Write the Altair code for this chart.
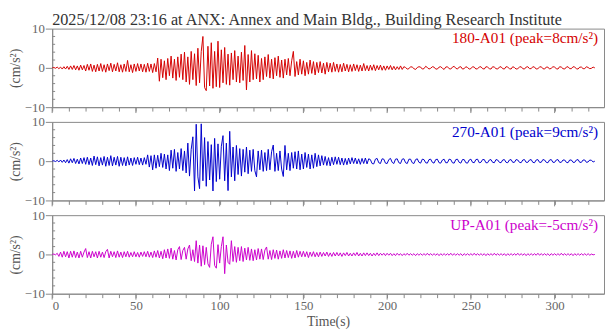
import altair as alt
import pandas as pd

# ---------------- data ----------------
time_s = list(range(325))

acc_180 = [
    0, 0.1, -0.1, 0.2, -0.2, 0.2, -0.3, 0.3, -0.3, 0.4,
    -0.4, 0.5, -0.4, 0.6, -0.5, 0.5, -0.6, 0.7, -0.5, 0.6,
    -0.8, 0.9, -0.6, 1.0, -0.9, 0.7, -1.0, 0.9, -0.8, 1.1,
    -0.9, 0.8, -1.1, 1.0, -0.7, 1.2, -1.0, 0.9, -0.8, 1.3,
    -1.0, 0.8, -1.1, 1.0, -0.9, 1.9, -1.0, 0.8, -1.2, 1.0,
    -0.9, 1.1, -0.8, 1.0, -1.0, 0.9, -1.1, 1.2, -0.9, 1.0,
    -1.2, 1.1, -1.0, 2.5, -3.4, 2.2, -2.5, 1.8, -3.0, 2.4,
    -2.0, 3.0, -2.6, 2.2, -3.2, 2.8, -2.4, 3.5, -3.0, 4.0,
    -3.6, 2.8, -4.2, 4.2, -3.0, 3.6, -4.5, 5.0, -3.8, 4.2,
    8.0, -5.0, -5.8, 5.5, -4.6, 6.4, -5.2, 4.2, -4.8, 6.8,
    -5.0, 4.6, -3.8, 5.2, -4.2, 3.5, -4.4, 3.8, -3.0, 4.4,
    -3.6, 3.0, -3.8, 4.0, -3.2, 5.7, -5.6, 3.4, -3.6, 4.4,
    -3.0, 3.6, -2.8, 3.2, -3.6, 2.4, -3.0, 2.8, -2.2, 3.4,
    -2.6, 2.2, -2.8, 2.6, -2.0, 3.0, -2.4, 2.0, -2.6, 2.2,
    -1.8, 2.4, -2.0, 1.8, 4.2, -2.2, 1.6, -1.8, 2.2, -1.6,
    1.8, -2.0, 1.4, -1.6, 2.0, -1.4, 1.6, -1.8, 1.4, -1.2,
    1.6, -1.3, 1.2, -1.6, 1.4, -1.0, 1.2, -1.1, 1.4, -0.9,
    1.0, -1.1, 0.9, -1.0, 1.2, -0.8, 0.9, -1.0, 0.8, -0.9,
    1.0, -0.7, 0.8, -0.9, 0.7, -0.8, 1.1, -0.7, 0.6, -0.8,
    0.7, -0.6, 0.8, -0.7, 0.6, -0.5, 0.7, -0.6, 0.5, -0.6,
    0.5, -0.4, 0.6, -0.5, 0.4, -0.5, 0.3, -0.4, 0.5, -0.4,
    0.3, 0.1, -0.3, -0.2, 0.3, 0.2, -0.2, -0.4, 0.1, 0.3,
    0.2, -0.3, -0.2, 0.4, 0.1, -0.3, -0.1, 0.3, 0.2, -0.3,
    -0.3, 0.2, 0.3, -0.1, -0.4, 0.2, 0.3, -0.2, -0.3, 0.2,
    0.4, -0.1, -0.3, 0.2, 0.3, -0.3, -0.2, 0.3, 0.1, -0.3,
    -0.2, 0.3, 0.2, -0.3, -0.2, 0.2, 0.3, -0.2, -0.3, 0.3,
    0.2, -0.2, -0.3, 0.3, 0.2, -0.2, -0.3, 0.2, 0.3, -0.2,
    -0.3, 0.3, 0.2, -0.2, -0.3, 0.3, 0.1, -0.3, -0.2, 0.2,
    0.3, -0.2, -0.3, 0.2, 0.3, -0.2, -0.2, 0.3, 0.2, -0.3,
    -0.2, 0.2, 0.3, -0.2, -0.3, 0.2, 0.2, -0.3, -0.1, 0.3,
    0.2, -0.2, -0.3, 0.3, 0.2, -0.2, -0.3, 0.2, 0.3, -0.2,
    -0.2, 0.3, 0.2, -0.2, -0.3, 0.2, 0.2, -0.2, -0.2, 0.3,
    0.1, -0.2, -0.1, 0.2, 0.0,
]

acc_270 = [
    0, 0.1, -0.1, 0.2, -0.2, 0.3, -0.3, 0.3, -0.4, 0.4,
    -0.5, 0.6, -0.4, 0.7, -0.6, 0.5, -0.7, 0.8, -0.6, 0.9,
    -0.8, 1.0, -0.9, 0.8, -1.1, 1.3, -0.9, 1.1, -1.2, 0.9,
    -1.0, 1.2, -1.3, 1.0, -1.1, 1.4, -1.2, 1.0, -1.0, 1.2,
    -1.3, 1.0, -1.1, 0.9, -1.2, 1.1, -1.0, 0.8, -1.1, 0.9,
    -0.8, 1.0, -0.9, 0.8, -1.0, 0.9, -0.8, 1.6, -1.5, 1.4,
    -2.2, 1.6, -1.8, 1.5, -1.4, 2.0, -1.6, 1.8, -2.0, 1.6,
    -2.4, 2.8, -1.8, 3.0, -2.6, 2.2, -2.0, 3.2, -2.4, 2.6,
    -3.0, 4.6, -3.8, 3.0, 6.2, -7.6, 9.4, -4.0, -7.0, 9.5,
    -5.0, 6.0, -6.4, 5.0, -4.8, 4.2, -7.6, 5.8, -5.2, 4.4,
    -4.6, 3.8, 6.5, -5.0, 4.6, -7.5, 7.6, -4.0, 3.6, -5.0,
    4.0, -3.4, 3.2, -3.8, 3.0, -2.8, 3.6, -3.2, 2.8, -2.6,
    3.0, -2.4, -4.0, 2.6, -2.2, 2.8, -2.6, 2.2, -2.4, 3.0,
    -2.2, 2.4, 4.1, -2.6, 2.0, -2.4, 2.6, -2.0, -3.9, 4.0,
    -2.2, 2.0, -2.4, 2.2, -1.8, 2.4, -2.0, 2.6, -2.2, 1.8,
    -2.0, 2.2, -1.6, 1.8, -2.0, 1.6, -1.8, 2.0, -1.4, 1.6,
    -1.2, 1.4, -1.0, 1.2, -1.1, 0.9, -1.2, 1.0, -0.9, 1.1,
    -0.8, 1.0, -0.9, 0.8, -1.0, 0.7, -0.9, 0.8, -0.7, 0.9,
    -0.6, 0.8, -0.7, 0.6, -0.8, 0.7, -0.6, 0.8, -0.7, 0.6,
    0.4, -0.6, -0.7, 0.5, 0.7, -0.4, -0.6, 0.6, 0.5, -0.5,
    -0.6, 0.4, 0.7, -0.3, -0.6, 0.5, 0.6, -0.4, -0.6, 0.5,
    0.6, -0.4, -0.6, 0.5, 0.5, -0.4, -0.6, 0.4, 0.6, -0.3,
    -0.5, 0.5, 0.4, -0.4, -0.5, 0.4, 0.5, -0.3, -0.5, 0.4,
    0.5, -0.4, -0.5, 0.3, 0.5, -0.4, -0.4, 0.5, 0.4, -0.4,
    -0.5, 0.4, 0.5, -0.3, -0.5, 0.4, 0.4, -0.4, -0.5, 0.3,
    0.5, -0.3, -0.4, 0.4, 0.5, -0.4, -0.3, 0.4, 0.4, -0.4,
    -0.4, 0.3, 0.4, -0.3, -0.4, 0.4, 0.3, -0.3, -0.4, 0.3,
    0.4, -0.3, -0.4, 0.3, 0.4, -0.3, -0.3, 0.4, 0.3, -0.3,
    -0.4, 0.3, 0.4, -0.3, -0.3, 0.3, 0.4, -0.3, -0.4, 0.3,
    0.4, -0.3, -0.3, 0.4, 0.3, -0.3, -0.4, 0.3, 0.4, -0.3,
    -0.3, 0.3, 0.4, -0.3, -0.3, 0.3, 0.3, -0.3, -0.4, 0.3,
    0.3, -0.3, -0.3, 0.3, 0.4, -0.3, -0.3, 0.3, 0.3, -0.3,
    -0.2, 0.3, 0.2, -0.2, 0.0,
]

acc_up = [
    0, 0.1, -0.1, 0.3, -0.5, 0.6, -0.7, 0.8, -0.6, 0.7,
    -0.9, 0.8, -0.7, 0.9, -0.8, 0.6, -0.9, 0.8, -0.7, 0.6,
    1.5, -0.8, 0.7, -0.9, 0.8, -0.6, 0.7, -0.9, 0.8, -0.7,
    0.6, -0.8, 0.7, 1.3, -0.9, 0.8, -0.6, 0.7, -0.8, 0.9,
    -0.7, 0.6, -0.8, 0.7, -0.6, 0.8, -0.7, 0.5, -0.6, 0.7,
    -0.6, 0.5, -0.7, 0.6, -0.5, 0.7, -0.6, 0.8, -0.7, 0.6,
    -0.8, 0.9, -0.7, 1.0, -0.9, 0.8, -1.1, 1.2, -0.9, 1.4,
    -1.0, 1.6, -1.2, 1.0, -1.4, 1.2, 2.0, -1.3, 1.0, 1.8,
    -1.2, 1.4, 2.4, -1.6, 1.2, -1.8, 3.5, -2.2, 2.4, -3.0,
    2.2, -2.6, 1.8, -2.4, -3.3, 2.6, 4.5, -2.8, -3.5, 2.5,
    -2.2, 2.0, 4.5, -4.9, 2.4, -2.0, -2.5, 3.5, -1.8, 2.0,
    -2.0, 1.8, -1.6, 2.0, -1.8, 1.6, -1.4, 1.8, -1.5, 1.4,
    -1.6, 1.2, -1.4, 1.5, -1.2, 1.4, -1.3, 1.1, 1.9, -1.2,
    1.0, -1.3, 1.2, -1.0, 1.1, -1.2, 0.9, -1.0, 1.2, -0.9,
    1.0, -0.8, 0.9, -1.0, 0.8, -0.9, 1.0, -0.7, 0.8, -0.6,
    0.8, -0.6, 0.7, -0.8, 0.6, -0.5, 0.7, -0.6, 0.5, -0.6,
    0.6, -0.5, 0.5, -0.4, 0.6, -0.5, 0.4, -0.5, 0.5, -0.4,
    0.5, -0.4, 0.4, -0.5, 0.4, -0.3, 0.5, -0.4, 0.3, -0.4,
    0.4, -0.3, 0.5, -0.4, 0.3, -0.4, 0.4, -0.3, 0.4, -0.3,
    0.3, -0.4, 0.3, -0.3, 0.4, -0.3, 0.3, -0.2, 0.3, -0.3,
    0.3, -0.2, 0.3, -0.3, 0.2, -0.3, 0.3, -0.2, 0.2, -0.3,
    0.2, -0.2, 0.3, -0.2, 0.2, -0.2, 0.2, -0.3, 0.2, -0.2,
    0.2, -0.2, 0.2, -0.2, 0.3, -0.2, 0.2, -0.2, 0.2, -0.2,
    0.2, -0.3, 0.2, -0.2, 0.2, -0.2, 0.2, -0.2, 0.3, -0.2,
    0.2, -0.2, 0.2, -0.2, 0.2, -0.3, 0.2, -0.2, 0.2, -0.2,
    0.2, -0.2, 0.3, -0.2, 0.2, -0.2, 0.2, -0.2, 0.2, -0.3,
    0.2, -0.2, 0.2, -0.2, 0.3, -0.2, 0.2, -0.2, 0.2, -0.2,
    0.2, -0.3, 0.2, -0.2, 0.2, -0.2, 0.2, -0.2, 0.3, -0.2,
    0.2, -0.2, 0.2, -0.3, 0.2, -0.2, 0.2, -0.2, 0.2, -0.2,
    0.3, -0.2, 0.2, -0.2, 0.2, -0.2, 0.2, -0.3, 0.2, -0.2,
    0.2, -0.2, 0.2, -0.2, 0.3, -0.2, 0.2, -0.2, 0.2, -0.2,
    0.2, -0.3, 0.2, -0.2, 0.2, -0.2, 0.2, -0.2, 0.2, -0.2,
    0.2, -0.2, 0.1, -0.1, 0.0,
]

series_list = [acc_180, acc_270, acc_up]
panel_labels = ["180-A01 (peak=8cm/s²)", "270-A01 (peak=9cm/s²)", "UP-A01 (peak=-5cm/s²)"]
panel_colors = ["#d40000", "#0000cc", "#cc00cc"]
chart_title = "2025/12/08 23:16 at ANX: Annex and Main Bldg., Building Research Institute"

x_ticks = list(range(0, 330, 10))
x_major = [0, 50, 100, 150, 200, 250, 300]
y_major = [-10, 0, 10]
y_minor = [-8, -6, -4, -2, 2, 4, 6, 8]

# ---------------- layout ----------------
W, H = 562, 80
FONT = "Liberation Serif"
GRAY = "#888888"

xscale = alt.Scale(domain=[0, 329.5], nice=False, zero=False)
yscale = alt.Scale(domain=[-10, 10], nice=False, zero=False)


def panel(series, label, color, bottom, top):
    df = pd.DataFrame({"t": time_s, "a": series})
    if bottom:
        xaxis = alt.Axis(values=x_ticks, tickSize=4, labelPadding=2,
                         labelExpr="datum.value % 50 === 0 ? datum.label : ''",
                         titlePadding=2, grid=False, title="Time(s)")
    else:
        xaxis = alt.Axis(values=x_ticks, tickSize=4, labels=False, grid=False, title=None)
    yaxis = alt.Axis(values=y_major, tickSize=7, labelPadding=1, titlePadding=2,
                     grid=False, title="(cm/s²)")

    line = alt.Chart(df).mark_line(color=color, strokeWidth=1, clip=True).encode(
        x=alt.X("t:Q", scale=xscale, axis=xaxis),
        y=alt.Y("a:Q", scale=yscale, axis=yaxis),
    )
    yminor = alt.Chart(pd.DataFrame({"a": y_minor})).mark_rule(color=GRAY, strokeWidth=1).encode(
        y=alt.Y("a:Q", scale=yscale, axis=yaxis), x=alt.value(0), x2=alt.value(3)
    )
    xmaj = alt.Chart(pd.DataFrame({"t": x_major})).mark_rule(color=GRAY, strokeWidth=1).encode(
        x=alt.X("t:Q", scale=xscale, axis=xaxis), y=alt.value(H), y2=alt.value(H + 6)
    )
    txt = alt.Chart(alt.Data(values=[{"label": label}])).mark_text(
        align="right", baseline="alphabetic", font=FONT, fontSize=15.5, color=color
    ).encode(x=alt.value(W - 6), y=alt.value(15), text="label:N")
    layers = [line, yminor, xmaj, txt]
    if top:
        ttl = alt.Chart(alt.Data(values=[{"title": chart_title}])).mark_text(
            align="left", baseline="alphabetic", font=FONT, fontSize=16.5, color="#333333"
        ).encode(x=alt.value(0), y=alt.value(-4), text="title:N")
        layers.append(ttl)
    return alt.layer(*layers).properties(width=W, height=H)


panels = [panel(s, l, c, i == 2, i == 0)
          for i, (s, l, c) in enumerate(zip(series_list, panel_labels, panel_colors))]

chart = alt.vconcat(*panels, spacing=0).properties(padding=0).configure_view(
    stroke=GRAY, strokeWidth=1
).configure_axis(
    domainColor=GRAY, tickColor=GRAY, labelColor="#666666", titleColor="#555555",
    labelFont=FONT, titleFont=FONT, labelFontSize=13, titleFontSize=14,
    titleFontWeight="normal",
)

chart.save("out.html", embed_options={"renderer": "svg", "actions": False})
